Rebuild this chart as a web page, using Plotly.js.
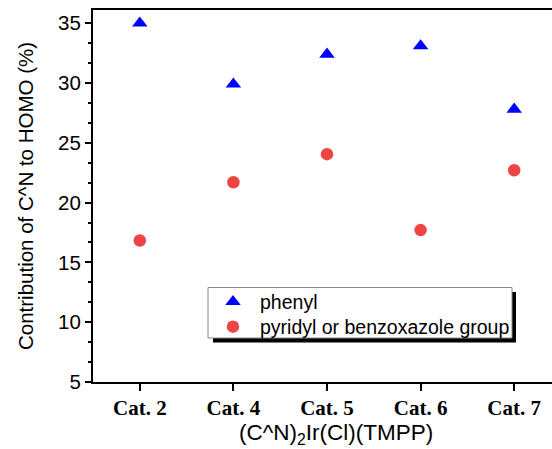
<!DOCTYPE html>
<html>
<head>
<meta charset="utf-8">
<script src="https://cdn.plot.ly/plotly-3.0.1.min.js"></script>
<style>
html,body{margin:0;padding:0;overflow:hidden;background:#fff;}
#chart{width:600px;height:449px;}
</style>
</head>
<body>
<div id="chart"></div>
<script>
const categories = ['Cat. 2', 'Cat. 4', 'Cat. 5', 'Cat. 6', 'Cat. 7'];
const phenyl = [35.0, 29.9, 32.4, 33.1, 27.8];
const pyridyl = [16.83, 21.7, 24.05, 17.7, 22.7];
const yTicks = [5, 10, 15, 20, 25, 30, 35];

const L = 93, R = 561, T = 10, B = 382;
const px = v => (v - L) / (R - L);
const py = v => (B - v) / (B - T);

const traces = [
  {
    x: categories, y: phenyl, name: 'phenyl', type: 'scatter', mode: 'markers',
    marker: {symbol: 'triangle-up', size: 13.5, color: '#0000FF'}, legend: 'legend'
  },
  {
    x: categories, y: pyridyl, name: 'pyridyl or benzoxazole group', type: 'scatter', mode: 'markers',
    marker: {symbol: 'circle', size: 12.5, color: '#EF4444'}, legend: 'legend2'
  }
];

const legStyle = {
  xanchor: 'left', yanchor: 'middle',
  bgcolor: 'rgba(0,0,0,0)', borderwidth: 0,
  font: {size: 19.5, color: '#000'}, itemwidth: 44
};

const layout = {
  width: 600, height: 449,
  margin: {l: L, r: 600 - R, t: T, b: 449 - B, pad: 0},
  paper_bgcolor: '#fff', plot_bgcolor: '#fff',
  showlegend: true,
  font: {family: 'Arial, Liberation Sans, sans-serif', color: '#000'},
  xaxis: {
    type: 'category', range: [-0.5, 4.5],
    showline: true, linecolor: '#000', linewidth: 2, mirror: true,
    ticks: 'outside', ticklen: 7, tickwidth: 2, tickcolor: '#000',
    showgrid: false, zeroline: false,
    tickfont: {family: 'Liberation Serif, Times New Roman, serif', size: 21, weight: 'bold', color: '#000'},
    ticklabelstandoff: -1
  },
  yaxis: {
    range: [5, 36.1], tickvals: yTicks,
    showline: true, linecolor: '#000', linewidth: 2, mirror: true,
    ticks: 'outside', ticklen: 6, tickwidth: 2, tickcolor: '#000',
    minor: {dtick: 5/3, ticks: 'outside', ticklen: 3, tickwidth: 2, tickcolor: '#000', showgrid: false},
    showgrid: false, zeroline: false,
    tickfont: {size: 20.5, color: '#000'},
    title: {text: 'Contribution of C^N to HOMO (%)', font: {size: 20.5, color: '#000'}, standoff: 19}
  },
  legend: Object.assign({x: px(206), y: py(302)}, legStyle),
  legend2: Object.assign({x: px(206), y: py(327)}, legStyle),
  shapes: [
    {type: 'rect', xref: 'paper', yref: 'paper', x0: px(213), x1: px(516), y0: py(292), y1: py(342.5),
     fillcolor: '#000', line: {width: 0}, layer: 'above'},
    {type: 'rect', xref: 'paper', yref: 'paper', x0: px(208), x1: px(512), y0: py(287.5), y1: py(338),
     fillcolor: '#fff', line: {color: '#888', width: 1}, layer: 'above'}
  ],
  annotations: [
    {text: '(C^N)<sub>2</sub>Ir(Cl)(TMPP)', xref: 'paper', yref: 'paper', x: px(335.5), y: py(434),
     xanchor: 'center', yanchor: 'middle', showarrow: false, font: {size: 22.5, color: '#000'}}
  ]
};

Plotly.newPlot('chart', traces, layout, {displayModeBar: false, staticPlot: true});
</script>
</body>
</html>
